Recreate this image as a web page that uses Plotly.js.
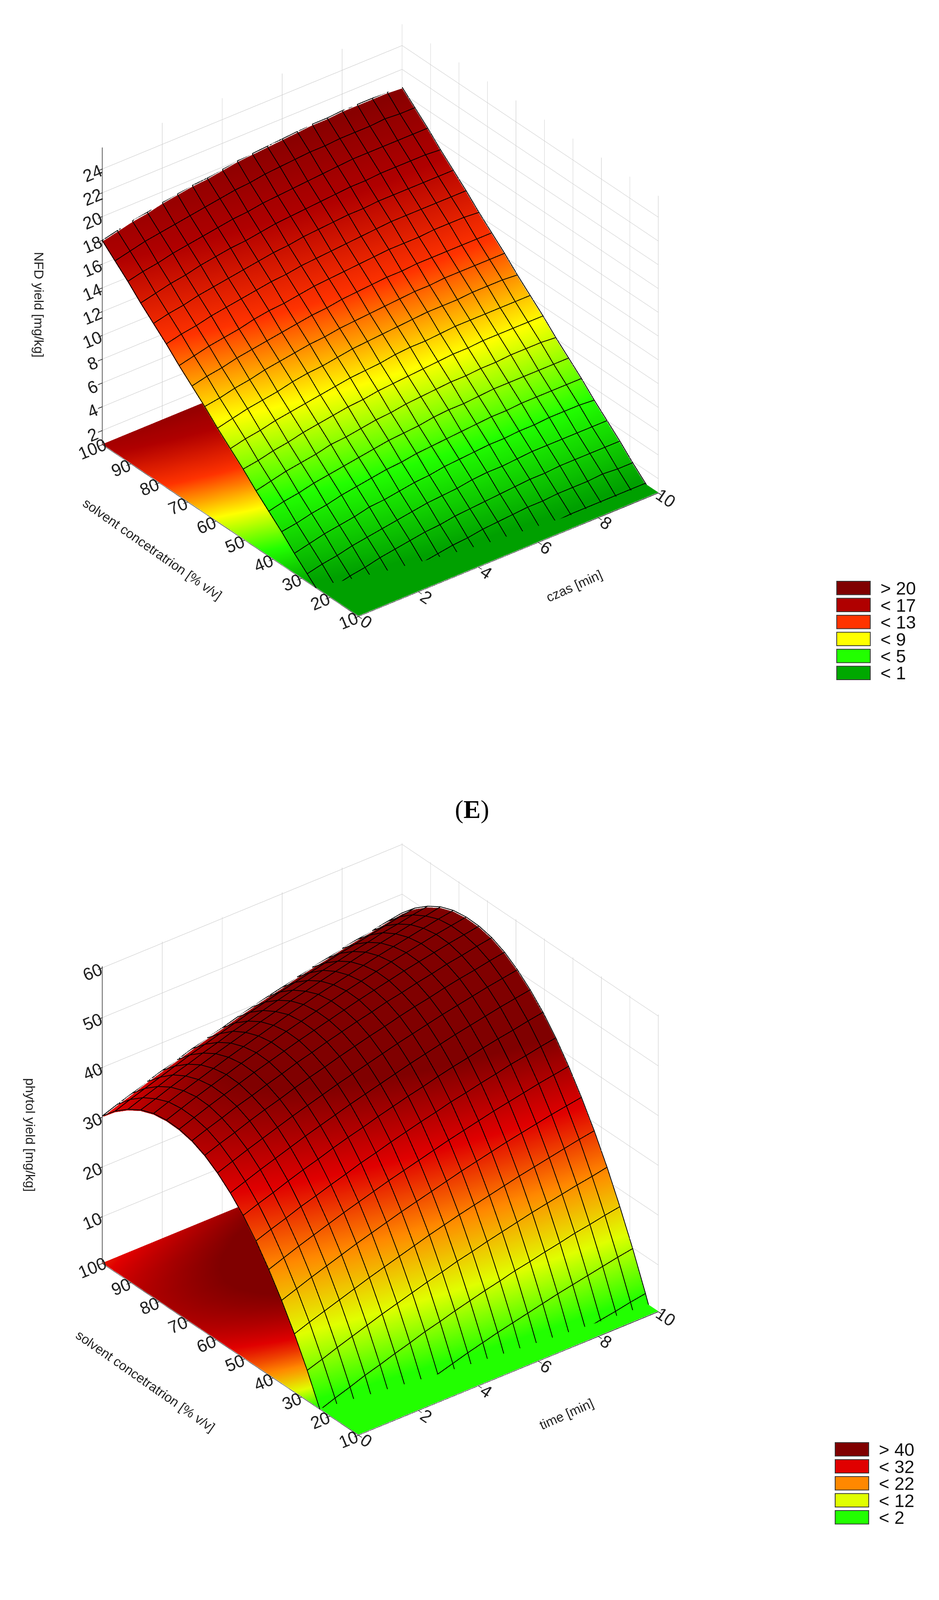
<!DOCTYPE html>
<html>
<head>
<meta charset="utf-8">
<script src="https://cdn.plot.ly/plotly-3.0.1.min.js"></script>
<style>html,body{margin:0;padding:0;background:#fff}</style>
</head>
<body>
<div id="chart" style="width:2405px;height:4287px"></div>
<script>
// (E) NFD yield vs time and solvent concentration
const timeE = [0, 0.5, 1, 1.5, 2, 2.5, 3, 3.5, 4, 4.5, 5, 5.5, 6, 6.5, 7, 7.5, 8, 8.5, 9, 9.5, 10];
const concE = [10, 14.5, 19, 23.5, 28, 32.5, 37, 41.5, 46, 50.5, 55, 59.5, 64, 68.5, 73, 77.5, 82, 86.5, 91, 95.5, 100];
// rows = concentration, columns = time
const nfdYield = [
  [-2.8, -2.5, -2.2, -2.0, -1.8, -1.5, -1.3, -1.2, -1.0, -0.8, -0.7, -0.6, -0.5, -0.4, -0.3, -0.3, -0.3, -0.2, -0.2, -0.2, -0.3],
  [-1.7, -1.5, -1.2, -1.0, -0.7, -0.5, -0.3, -0.1, 0.0, 0.2, 0.3, 0.4, 0.5, 0.6, 0.7, 0.8, 0.8, 0.8, 0.8, 0.8, 0.8],
  [-0.7, -0.4, -0.2, 0.1, 0.3, 0.5, 0.7, 0.9, 1.1, 1.2, 1.4, 1.5, 1.6, 1.7, 1.7, 1.8, 1.8, 1.8, 1.9, 1.8, 1.8],
  [0.4, 0.6, 0.9, 1.1, 1.4, 1.6, 1.8, 2.0, 2.1, 2.3, 2.4, 2.5, 2.6, 2.7, 2.8, 2.8, 2.9, 2.9, 2.9, 2.9, 2.9],
  [1.4, 1.7, 1.9, 2.2, 2.4, 2.6, 2.8, 3.0, 3.2, 3.3, 3.4, 3.6, 3.7, 3.7, 3.8, 3.9, 3.9, 3.9, 3.9, 3.9, 3.9],
  [2.4, 2.7, 3.0, 3.2, 3.4, 3.7, 3.8, 4.0, 4.2, 4.3, 4.5, 4.6, 4.7, 4.8, 4.8, 4.9, 4.9, 5.0, 5.0, 5.0, 4.9],
  [3.5, 3.7, 4.0, 4.2, 4.5, 4.7, 4.9, 5.1, 5.2, 5.4, 5.5, 5.6, 5.7, 5.8, 5.9, 5.9, 6.0, 6.0, 6.0, 6.0, 6.0],
  [4.5, 4.8, 5.0, 5.3, 5.5, 5.7, 5.9, 6.1, 6.3, 6.4, 6.5, 6.7, 6.8, 6.8, 6.9, 7.0, 7.0, 7.0, 7.0, 7.0, 7.0],
  [5.5, 5.8, 6.1, 6.3, 6.5, 6.8, 6.9, 7.1, 7.3, 7.4, 7.6, 7.7, 7.8, 7.9, 7.9, 8.0, 8.0, 8.1, 8.1, 8.1, 8.0],
  [6.6, 6.8, 7.1, 7.3, 7.6, 7.8, 8.0, 8.2, 8.3, 8.5, 8.6, 8.7, 8.8, 8.9, 9.0, 9.0, 9.1, 9.1, 9.1, 9.1, 9.1],
  [7.6, 7.9, 8.1, 8.4, 8.6, 8.8, 9.0, 9.2, 9.4, 9.5, 9.6, 9.8, 9.9, 9.9, 10.0, 10.1, 10.1, 10.1, 10.1, 10.1, 10.1],
  [8.6, 8.9, 9.2, 9.4, 9.6, 9.9, 10.1, 10.2, 10.4, 10.6, 10.7, 10.8, 10.9, 11.0, 11.1, 11.1, 11.1, 11.2, 11.2, 11.2, 11.1],
  [9.7, 9.9, 10.2, 10.4, 10.7, 10.9, 11.1, 11.3, 11.4, 11.6, 11.7, 11.8, 11.9, 12.0, 12.1, 12.1, 12.2, 12.2, 12.2, 12.2, 12.2],
  [10.7, 11.0, 11.2, 11.5, 11.7, 11.9, 12.1, 12.3, 12.5, 12.6, 12.8, 12.9, 13.0, 13.1, 13.1, 13.2, 13.2, 13.2, 13.2, 13.2, 13.2],
  [11.7, 12.0, 12.3, 12.5, 12.7, 13.0, 13.2, 13.3, 13.5, 13.7, 13.8, 13.9, 14.0, 14.1, 14.2, 14.2, 14.2, 14.3, 14.3, 14.3, 14.2],
  [12.8, 13.1, 13.3, 13.6, 13.8, 14.0, 14.2, 14.4, 14.5, 14.7, 14.8, 14.9, 15.0, 15.1, 15.2, 15.3, 15.3, 15.3, 15.3, 15.3, 15.3],
  [13.8, 14.1, 14.3, 14.6, 14.8, 15.0, 15.2, 15.4, 15.6, 15.7, 15.9, 16.0, 16.1, 16.2, 16.2, 16.3, 16.3, 16.3, 16.3, 16.3, 16.3],
  [14.8, 15.1, 15.4, 15.6, 15.9, 16.1, 16.3, 16.4, 16.6, 16.8, 16.9, 17.0, 17.1, 17.2, 17.3, 17.3, 17.4, 17.4, 17.4, 17.4, 17.3],
  [15.9, 16.2, 16.4, 16.7, 16.9, 17.1, 17.3, 17.5, 17.6, 17.8, 17.9, 18.0, 18.1, 18.2, 18.3, 18.4, 18.4, 18.4, 18.4, 18.4, 18.4],
  [16.9, 17.2, 17.5, 17.7, 17.9, 18.1, 18.3, 18.5, 18.7, 18.8, 19.0, 19.1, 19.2, 19.3, 19.3, 19.4, 19.4, 19.4, 19.5, 19.4, 19.4],
  [17.9, 18.2, 18.5, 18.7, 19.0, 19.2, 19.4, 19.5, 19.7, 19.9, 20.0, 20.1, 20.2, 20.3, 20.4, 20.4, 20.5, 20.5, 20.5, 20.5, 20.4]
];
const nfdTicks = [2, 4, 6, 8, 10, 12, 14, 16, 18, 20, 22, 24];
const nfdLevels = [1, 5, 9, 13, 17, 21];
const nfdColors = ['#00a000', '#22ff00', '#ffff00', '#ff3300', '#b00000', '#800000'];
const nfdLegend = ['> 20', '< 17', '< 13', '< 9', '< 5', '< 1'];
const nfdLegendColors = ['#800000', '#b00000', '#ff3300', '#ffff00', '#22ff00', '#00a800'];

// (F) phytol yield
const timeF = [0, 0.5, 1, 1.5, 2, 2.5, 3, 3.5, 4, 4.5, 5, 5.5, 6, 6.5, 7, 7.5, 8, 8.5, 9, 9.5, 10];
const concF = [10, 14.5, 19, 23.5, 28, 32.5, 37, 41.5, 46, 50.5, 55, 59.5, 64, 68.5, 73, 77.5, 82, 86.5, 91, 95.5, 100];
const phytolYield = [
  [-21.5, -20.4, -19.4, -18.4, -17.4, -16.4, -15.5, -14.6, -13.7, -12.8, -12.0, -11.2, -10.5, -9.8, -9.1, -8.4, -7.8, -7.2, -6.6, -6.0, -5.5],
  [-13.7, -12.6, -11.6, -10.5, -9.5, -8.6, -7.6, -6.7, -5.9, -5.0, -4.2, -3.4, -2.7, -1.9, -1.2, -0.6, 0.1, 0.7, 1.2, 1.8, 2.3],
  [-6.4, -5.3, -4.3, -3.3, -2.3, -1.3, -0.4, 0.5, 1.4, 2.3, 3.1, 3.9, 4.6, 5.3, 6.0, 6.7, 7.3, 7.9, 8.5, 9.1, 9.6],
  [0.3, 1.4, 2.4, 3.5, 4.4, 5.4, 6.3, 7.3, 8.1, 9.0, 9.8, 10.6, 11.3, 12.1, 12.7, 13.4, 14.0, 14.7, 15.2, 15.8, 16.3],
  [6.5, 7.5, 8.6, 9.6, 10.6, 11.6, 12.5, 13.4, 14.3, 15.1, 16.0, 16.7, 17.5, 18.2, 18.9, 19.6, 20.2, 20.8, 21.4, 21.9, 22.5],
  [12.1, 13.2, 14.2, 15.2, 16.2, 17.2, 18.1, 19.0, 19.9, 20.8, 21.6, 22.4, 23.1, 23.8, 24.5, 25.2, 25.8, 26.4, 27.0, 27.6, 28.1],
  [17.1, 18.2, 19.3, 20.3, 21.3, 22.3, 23.2, 24.1, 25.0, 25.8, 26.6, 27.4, 28.2, 28.9, 29.6, 30.3, 30.9, 31.5, 32.1, 32.6, 33.1],
  [21.6, 22.7, 23.8, 24.8, 25.8, 26.8, 27.7, 28.6, 29.5, 30.3, 31.1, 31.9, 32.7, 33.4, 34.1, 34.8, 35.4, 36.0, 36.6, 37.1, 37.6],
  [25.6, 26.7, 27.7, 28.8, 29.7, 30.7, 31.6, 32.6, 33.4, 34.3, 35.1, 35.9, 36.6, 37.4, 38.0, 38.7, 39.3, 40.0, 40.5, 41.1, 41.6],
  [29.0, 30.1, 31.1, 32.2, 33.2, 34.1, 35.1, 36.0, 36.8, 37.7, 38.5, 39.3, 40.0, 40.8, 41.5, 42.1, 42.8, 43.4, 43.9, 44.5, 45.0],
  [31.8, 32.9, 34.0, 35.0, 36.0, 37.0, 37.9, 38.8, 39.7, 40.5, 41.3, 42.1, 42.9, 43.6, 44.3, 45.0, 45.6, 46.2, 46.8, 47.3, 47.8],
  [34.1, 35.2, 36.3, 37.3, 38.3, 39.3, 40.2, 41.1, 42.0, 42.8, 43.6, 44.4, 45.2, 45.9, 46.6, 47.3, 47.9, 48.5, 49.1, 49.6, 50.1],
  [35.9, 37.0, 38.0, 39.1, 40.1, 41.0, 42.0, 42.9, 43.7, 44.6, 45.4, 46.2, 46.9, 47.7, 48.4, 49.0, 49.7, 50.3, 50.8, 51.4, 51.9],
  [37.1, 38.2, 39.2, 40.3, 41.2, 42.2, 43.1, 44.1, 44.9, 45.8, 46.6, 47.4, 48.1, 48.9, 49.5, 50.2, 50.8, 51.5, 52.0, 52.6, 53.1],
  [37.7, 38.8, 39.9, 40.9, 41.9, 42.9, 43.8, 44.7, 45.6, 46.4, 47.2, 48.0, 48.8, 49.5, 50.2, 50.9, 51.5, 52.1, 52.7, 53.2, 53.7],
  [37.8, 38.9, 40.0, 41.0, 42.0, 43.0, 43.9, 44.8, 45.7, 46.5, 47.3, 48.1, 48.9, 49.6, 50.3, 51.0, 51.6, 52.2, 52.8, 53.3, 53.8],
  [37.4, 38.5, 39.5, 40.5, 41.5, 42.5, 43.4, 44.3, 45.2, 46.1, 46.9, 47.7, 48.4, 49.1, 49.8, 50.5, 51.1, 51.7, 52.3, 52.9, 53.4],
  [36.4, 37.4, 38.5, 39.5, 40.5, 41.5, 42.4, 43.3, 44.2, 45.0, 45.9, 46.6, 47.4, 48.1, 48.8, 49.5, 50.1, 50.7, 51.3, 51.8, 52.4],
  [34.8, 35.9, 36.9, 38.0, 38.9, 39.9, 40.8, 41.8, 42.6, 43.5, 44.3, 45.1, 45.8, 46.6, 47.2, 47.9, 48.5, 49.2, 49.7, 50.3, 50.8],
  [32.7, 33.8, 34.8, 35.8, 36.8, 37.8, 38.7, 39.6, 40.5, 41.4, 42.2, 43.0, 43.7, 44.4, 45.1, 45.8, 46.4, 47.0, 47.6, 48.2, 48.7],
  [30.0, 31.1, 32.1, 33.2, 34.2, 35.1, 36.1, 37.0, 37.8, 38.7, 39.5, 40.3, 41.0, 41.8, 42.5, 43.1, 43.8, 44.4, 44.9, 45.5, 46.0]
];
const phytolTicks = [10, 20, 30, 40, 50, 60];
const phytolLevels = [2, 12, 22, 32, 42];
const phytolColors = ['#22ff00', '#e0ff00', '#ff8800', '#e00000', '#800000'];
const phytolLegend = ['> 40', '< 32', '< 22', '< 12', '< 2'];
const phytolLegendColors = ['#800000', '#e00000', '#ff8800', '#e0ff00', '#22ff00'];

const timeTicks = [0, 2, 4, 6, 8, 10];
const concTicks = [10, 20, 30, 40, 50, 60, 70, 80, 90, 100];

const W = 2405, H = 4287;
const px2x = p => p / W;
const px2y = p => 1 - p / H;
const FONT = 'Liberation Sans, Arial, sans-serif';

function makeScale(levels, colors) {
  const lo = levels[0], hi = levels[levels.length - 1];
  return levels.map((lv, i) => [(lv - lo) / (hi - lo), colors[i]]);
}

// black mesh through the data grid (surface contour lines stay 1px in webgl)
function meshTrace(x, y, z, scene, lift) {
  const X = [], Y = [], Z = [];
  z.forEach((row, i) => {
    row.forEach((v, j) => { X.push(x[j]); Y.push(y[i]); Z.push(v + lift); });
    X.push(null); Y.push(null); Z.push(null);
  });
  x.forEach((xv, j) => {
    y.forEach((yv, i) => { X.push(xv); Y.push(yv); Z.push(z[i][j] + lift); });
    X.push(null); Y.push(null); Z.push(null);
  });
  return {
    type: 'scatter3d', mode: 'lines', x: X, y: Y, z: Z, scene: scene,
    connectgaps: false, line: {color: '#000', width: 4}, hoverinfo: 'skip'
  };
}

function surfaceTraces(x, y, z, scene, levels, colors, zRange) {
  const colorscale = makeScale(levels, colors);
  const cmin = levels[0], cmax = levels[levels.length - 1];
  const flat = {ambient: 1, diffuse: 0, specular: 0, roughness: 1, fresnel: 0};
  const span = zRange[1] - zRange[0];
  const floor = z.map(r => r.map(() => zRange[0] + span * 0.002));
  return [
    {
      type: 'surface', x: x, y: y, z: floor, surfacecolor: z, scene: scene,
      colorscale: colorscale, cmin: cmin, cmax: cmax, showscale: false,
      lighting: flat, hoverinfo: 'skip'
    },
    {
      type: 'surface', x: x, y: y, z: z, scene: scene,
      colorscale: colorscale, cmin: cmin, cmax: cmax, showscale: false,
      lighting: flat, hoverinfo: 'skip'
    },
    meshTrace(x, y, z, scene, span * 0.004)
  ];
}

const axisBase = {
  showbackground: false, gridcolor: '#c4c4c4', gridwidth: 2, zeroline: false,
  showline: true, linecolor: '#000', linewidth: 3,
  ticks: 'outside', ticklen: 14, tickwidth: 3, tickcolor: '#000',
  tickfont: {family: FONT, size: 23, color: '#222'},
  title: {text: ''},
  showspikes: false
};

function sceneLayout(domainY, zRange, zTicks) {
  return {
    domain: {x: [0, 0.81], y: domainY},
    aspectmode: 'manual',
    aspectratio: {x: 1.19, y: 1.297, z: 1.09},
    camera: {
      eye: {x: -0.798, y: -1.018, z: 0.798}, up: {x: 0, y: 0, z: 1}, center: {x: 0, y: 0, z: 0},
      projection: {type: 'orthographic'}
    },
    xaxis: Object.assign({}, axisBase, {range: [0, 10], tickvals: timeTicks}),
    yaxis: Object.assign({}, axisBase, {range: [10, 100], tickvals: concTicks}),
    zaxis: Object.assign({}, axisBase, {range: zRange, tickvals: zTicks})
  };
}

const zRangeE = [0.8, 25.8];
const zRangeF = [0.6, 60.3];

const data = [].concat(
  surfaceTraces(timeE, concE, nfdYield, 'scene', nfdLevels, nfdColors, zRangeE),
  surfaceTraces(timeF, concF, phytolYield, 'scene2', phytolLevels, phytolColors, zRangeF)
);

// legend boxes drawn as shapes + text
const shapes = [];
const annotations = [];
function addLegend(labels, colors, topPx, leftPx) {
  labels.forEach((lab, i) => {
    const t = topPx + i * 43.5;
    shapes.push({
      type: 'rect', xref: 'paper', yref: 'paper',
      x0: px2x(leftPx), x1: px2x(leftPx + 86), y0: px2y(t), y1: px2y(t + 34.5),
      fillcolor: colors[i], line: {color: '#333', width: 2}
    });
    annotations.push({
      xref: 'paper', yref: 'paper', x: px2x(leftPx + 110), y: px2y(t + 18),
      xanchor: 'left', yanchor: 'middle', showarrow: false, text: lab,
      font: {family: FONT, size: 46, color: '#111'}
    });
  });
}
addLegend(nfdLegend, nfdLegendColors, 1488, 2143);
addLegend(phytolLegend, phytolLegendColors, 3693, 2139);

// axis titles, slanted like the reference
function axisTitle(text, xPx, yPx, angle) {
  annotations.push({
    xref: 'paper', yref: 'paper', x: px2x(xPx), y: px2y(yPx), xanchor: 'center', yanchor: 'middle',
    showarrow: false, text: text, textangle: angle,
    font: {family: FONT, size: 34, color: '#222'}
  });
}
axisTitle('NFD yield [mg/kg]', 100, 780, 90);
axisTitle('solvent concetratrion [% v/v]', 390, 1405, 35);
axisTitle('czas [min]', 1470, 1500, -24);
axisTitle('phytol yield [mg/kg]', 78, 2905, 90);
axisTitle('solvent concetratrion [% v/v]', 372, 3535, 35);
axisTitle('time [min]', 1450, 3620, -24);

annotations.push({
  xref: 'paper', yref: 'paper', x: px2x(1209), y: px2y(2072), xanchor: 'center', yanchor: 'middle',
  showarrow: false, text: '(<b>E</b>)',
  font: {family: 'Liberation Serif, Times New Roman, serif', size: 66, color: '#000'}
});
annotations.push({
  xref: 'paper', yref: 'paper', x: px2x(1209), y: px2y(4215), xanchor: 'center', yanchor: 'middle',
  showarrow: false, text: '(<b>F</b>)',
  font: {family: 'Liberation Serif, Times New Roman, serif', size: 66, color: '#000'}
});

const layout = {
  width: W, height: H,
  margin: {l: 0, r: 0, t: 0, b: 0},
  paper_bgcolor: '#fff',
  showlegend: false,
  scene: sceneLayout([0.6174, 1], zRangeE, nfdTicks),
  scene2: sceneLayout([0.1285, 0.5111], zRangeF, phytolTicks),
  shapes: shapes,
  annotations: annotations
};

Plotly.newPlot('chart', data, layout, {displayModeBar: false, plotGlPixelRatio: 1});
</script>
</body>
</html>
